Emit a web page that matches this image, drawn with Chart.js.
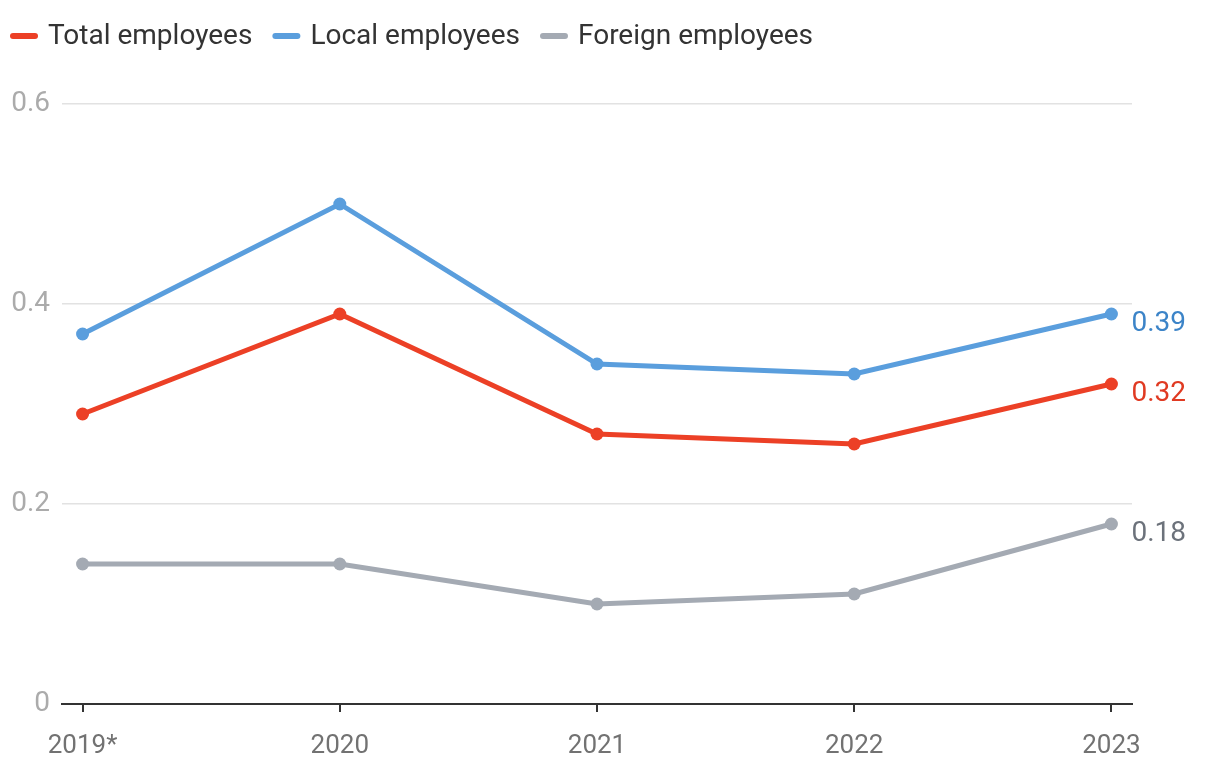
<!DOCTYPE html>
<html>
<head>
<meta charset="utf-8">
<script src="https://cdn.jsdelivr.net/npm/chart.js@4.4.1/dist/chart.umd.min.js"></script>
<style>
  html, body { margin: 0; padding: 0; background: #ffffff; }
  #wrap { width: 1220px; height: 772px; position: relative; }
</style>
</head>
<body>
<div id="wrap"><canvas id="c" width="1220" height="772"></canvas></div>
<script>
const categories = ["2019*", "2020", "2021", "2022", "2023"];
const totalEmployees = [0.29, 0.39, 0.27, 0.26, 0.32];
const localEmployees = [0.37, 0.50, 0.34, 0.33, 0.39];
const foreignEmployees = [0.14, 0.14, 0.10, 0.11, 0.18];
const yTicks = [0, 0.2, 0.4, 0.6];

const FONT = "Roboto, 'Noto Sans', sans-serif";

function toPoints(arr) { return arr.map((v, i) => ({ x: i, y: v })); }

const endLabelPlugin = {
  id: 'endLabels',
  afterDatasetsDraw(chart) {
    const ctx = chart.ctx;
    chart.data.datasets.forEach((ds, di) => {
      const meta = chart.getDatasetMeta(di);
      const last = meta.data[meta.data.length - 1];
      const val = ds.data[ds.data.length - 1].y;
      ctx.save();
      ctx.font = "28px " + FONT;
      ctx.fillStyle = ds.endLabelColor;
      ctx.textAlign = 'left';
      ctx.textBaseline = 'middle';
      ctx.fillText(String(val), last.x + 20, last.y + 10);
      ctx.restore();
    });
  }
};

const legendPlugin = {
  id: 'customLegend',
  afterDraw(chart) {
    const ctx = chart.ctx;
    ctx.save();
    ctx.font = "28px " + FONT;
    ctx.textBaseline = 'middle';
    ctx.textAlign = 'left';
    let x = 10;
    const y = 36;
    chart.data.datasets.forEach((ds) => {
      ctx.fillStyle = ds.borderColor;
      ctx.beginPath();
      ctx.roundRect(x, y - 3, 28, 6, 3);
      ctx.fill();
      ctx.fillStyle = '#333333';
      ctx.fillText(ds.label, x + 38, y + 1);
      x += 38 + ctx.measureText(ds.label).width + 20;
    });
    ctx.restore();
  }
};

new Chart(document.getElementById('c'), {
  type: 'line',
  data: {
    datasets: [
      { label: 'Total employees', data: toPoints(totalEmployees), borderColor: '#ec4026', backgroundColor: '#ec4026', endLabelColor: '#e03a22' },
      { label: 'Local employees', data: toPoints(localEmployees), borderColor: '#5a9edd', backgroundColor: '#5a9edd', endLabelColor: '#3c84c8' },
      { label: 'Foreign employees', data: toPoints(foreignEmployees), borderColor: '#a4aab3', backgroundColor: '#a4aab3', endLabelColor: '#6c727b' }
    ]
  },
  options: {
    responsive: false,
    animation: false,
    devicePixelRatio: 1,
    layout: { padding: { left: 0, right: 88, top: 104, bottom: 0 } },
    elements: {
      line: { borderWidth: 5, tension: 0 },
      point: { radius: 6.5, hoverRadius: 6.5, borderWidth: 0 }
    },
    plugins: {
      tooltip: { enabled: false },
      legend: { display: false }
    },
    scales: {
      x: {
        type: 'linear',
        min: -0.08,
        max: 4.08,
        afterBuildTicks(scale) { scale.ticks = categories.map((_, i) => ({ value: i })); },
        afterFit(scale) { scale.height = 68; },
        ticks: {
          callback: (v) => categories[v],
          color: '#727272',
          font: { family: FONT, size: 26 },
          padding: 19,
          maxRotation: 0,
          autoSkip: false
        },
        grid: { drawOnChartArea: false, drawTicks: true, tickLength: 8, color: '#333333', lineWidth: 2 },
        border: { display: true, color: '#333333', width: 2 }
      },
      y: {
        min: 0,
        max: 0.6,
        afterBuildTicks(scale) { scale.ticks = yTicks.map(v => ({ value: v })); },
        afterFit(scale) { scale.width = 62; },
        ticks: {
          callback: (v) => v === 0 ? '0' : v.toFixed(1),
          color: '#ababab',
          font: { family: FONT, size: 28 },
          padding: 12
        },
        grid: { drawTicks: false, color: '#e2e2e2', lineWidth: 1.5 },
        border: { display: false }
      }
    }
  },
  plugins: [endLabelPlugin, legendPlugin]
});
</script>
</body>
</html>
